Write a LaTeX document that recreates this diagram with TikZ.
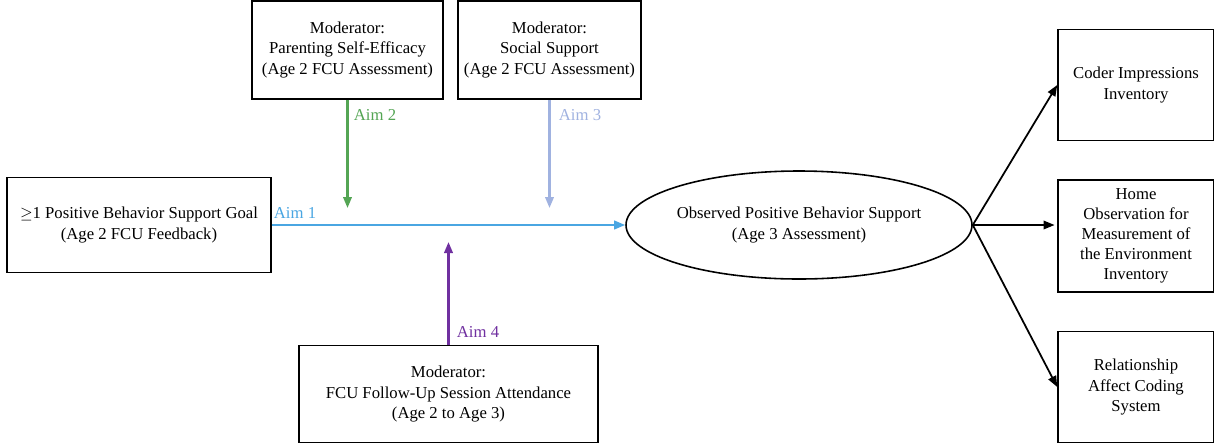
\documentclass[tikz,border=0pt]{standalone}
\usepackage{fontspec}
\setmainfont{Liberation Serif}
\usepackage{xcolor}
\usetikzlibrary{arrows.meta,positioning,shapes.geometric,calc}

\definecolor{aimone}{RGB}{74,166,226}
\definecolor{aimtwo}{RGB}{84,165,84}
\definecolor{aimthree}{RGB}{160,178,224}
\definecolor{aimfour}{RGB}{112,48,160}

\begin{document}
\begin{tikzpicture}[
  font=\fontsize{9.5}{11.4}\selectfont,
  box/.style={draw, line width=0.9pt, align=center, inner sep=2pt},
  sidebox/.style={box, minimum width=3.12cm, minimum height=2.22cm},
  oval/.style={draw, ellipse, line width=0.9pt, align=center, inner sep=0pt, minimum width=6.92cm, minimum height=2.16cm},
  aimlab/.style={inner sep=1pt},
  arrow/.style={-{Triangle[length=2.2mm,width=1.7mm]}, line width=1pt},
  aim/.style={arrow, line width=1.25pt}
]
\useasboundingbox (0,0) rectangle (24.28,-8.88);
\node[box, minimum width=5.28cm, minimum height=1.9cm] (goal) at (2.78,-4.5) {$\geq$1 Positive Behavior Support Goal\\(Age 2 FCU Feedback)};
\node[box, minimum width=3.82cm, minimum height=1.96cm] (pse) at (6.95,-1.0) {Moderator:\\Parenting Self-Efficacy\\(Age 2 FCU Assessment)};
\node[box, minimum width=3.66cm, minimum height=1.96cm] (soc) at (10.99,-1.0) {Moderator:\\Social Support\\(Age 2 FCU Assessment)};
\node[box, minimum width=5.98cm, minimum height=1.94cm] (fcu) at (8.97,-7.88) {Moderator:\\FCU Follow-Up Session Attendance\\(Age 2 to Age 3)};
\node[oval] (obs) at (15.98,-4.5) {Observed Positive Behavior Support\\(Age 3 Assessment)};
\node[sidebox] (cii) at (22.72,-1.7) {Coder Impressions\\Inventory};
\node[sidebox, minimum height=2.24cm] (home) at (22.72,-4.72) {Home\\Observation for\\Measurement of\\the Environment\\Inventory};
\node[sidebox] (racs) at (22.72,-7.74) {Relationship\\Affect Coding\\System};
% moderator targets on the main path
\coordinate (m2) at (6.95,-4.16);
\coordinate (m3) at (10.99,-4.16);
\coordinate (m4) at (8.97,-4.84);
\draw[aim, aimone] (goal.east) -- (obs.west);
\draw[aim, aimtwo] (pse.south) -- (m2);
\draw[aim, aimthree] (soc.south) -- (m3);
\draw[aim, aimfour] (fcu.north) -- (m4);
\node[aimlab, text=aimone] at (5.9,-4.26) {Aim 1};
\node[aimlab, text=aimtwo] at (7.5,-2.3) {Aim 2};
\node[aimlab, text=aimthree] at (11.6,-2.3) {Aim 3};
\node[aimlab, text=aimfour] at (9.56,-6.64) {Aim 4};
% indicators
\foreach \t in {cii,racs}
  \draw[arrow] (obs.east) -- (\t.west);
\draw[arrow, shorten >=1.5pt] (obs.east) -- (home.west |- obs.east);
\end{tikzpicture}
\end{document}
